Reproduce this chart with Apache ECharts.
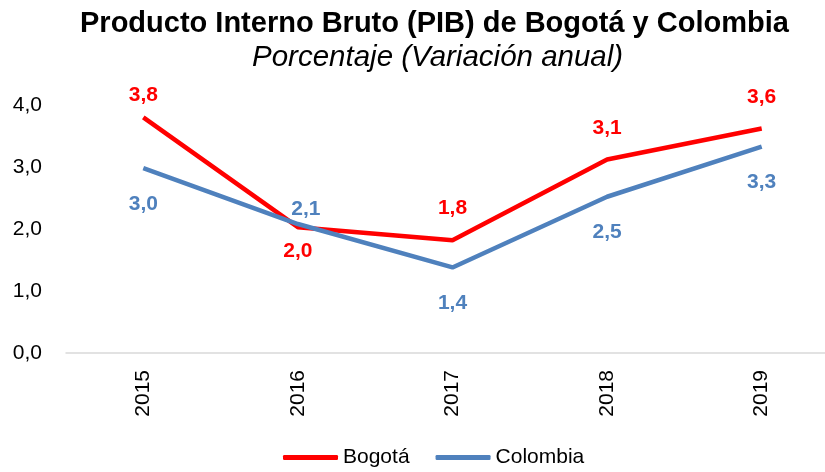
<!DOCTYPE html>
<html>
<head>
<meta charset="utf-8">
<script src="https://cdn.jsdelivr.net/npm/echarts@6/dist/echarts.min.js"></script>
<style>
  html, body { margin: 0; padding: 0; background: #fff; }
  #chart { width: 825px; height: 472px; }
</style>
</head>
<body>
<div id="chart"></div>
<script>
const years = ['2015', '2016', '2017', '2018', '2019'];
const bogota = [3.80, 2.03, 1.82, 3.12, 3.62];
const colombia = [2.98, 2.08, 1.38, 2.52, 3.33];
const yTicks = [0, 1, 2, 3, 4];

const FONT = '"Liberation Sans", Arial, sans-serif';
const fmt = v => v.toFixed(1).replace('.', ',');

// Bogotá labels above except 2016, Colombia below except 2016
const bogotaData = bogota.map((v, i) => ({
  value: v,
  label: i === 1 ? { position: 'bottom', distance: 14 } : { position: 'top', distance: i === 0 ? 12 : 21 }
}));
const colombiaData = colombia.map((v, i) => ({
  value: v,
  label: i === 1 ? { position: 'top', distance: 4, offset: [8, 0] } : { position: 'bottom', distance: 25 }
}));

const chart = echarts.init(document.getElementById('chart'));
chart.setOption({
  backgroundColor: '#ffffff',
  animation: false,
  title: [
    {
      text: 'Producto Interno Bruto (PIB) de Bogotá y Colombia',
      left: 75,
      top: 4,
      textStyle: { fontFamily: FONT, fontSize: 29, fontWeight: 'bold', color: '#000' }
    },
    {
      text: 'Porcentaje (Variación anual)',
      left: 247,
      top: 38,
      textStyle: { fontFamily: FONT, fontSize: 29.5, fontStyle: 'italic', fontWeight: 'normal', color: '#000' }
    }
  ],
  legend: {
    top: 442,
    left: 278,
    itemWidth: 55,
    itemHeight: 5,
    itemGap: 26,
    icon: 'roundRect',
    textStyle: { fontFamily: FONT, fontSize: 21, color: '#000' },
    data: ['Bogotá', 'Colombia']
  },
  grid: { left: 66, right: -14, top: 105, bottom: 119, outerBoundsMode: 'none' },
  xAxis: {
    type: 'category',
    data: years,
    boundaryGap: true,
    axisLine: { lineStyle: { color: '#d9d9d9', width: 1.5 } },
    axisTick: { show: false },
    axisLabel: { rotate: 90, margin: 17, fontFamily: FONT, fontSize: 21, color: '#000' }
  },
  yAxis: {
    type: 'value',
    min: yTicks[0],
    max: yTicks[yTicks.length - 1],
    interval: 1,
    splitLine: { show: false },
    axisLine: { show: false },
    axisTick: { show: false },
    axisLabel: { margin: 24, fontFamily: FONT, fontSize: 21, color: '#000', formatter: v => fmt(v) }
  },
  series: [
    {
      name: 'Bogotá',
      type: 'line',
      data: bogotaData,
      symbol: 'circle',
      symbolSize: 0,
      showSymbol: true,
      color: '#ff0000',
      lineStyle: { width: 4.5, color: '#ff0000' },
      label: {
        show: true,
        fontFamily: FONT, fontSize: 21, fontWeight: 'bold', color: '#ff0000',
        formatter: p => fmt(p.value)
      },
      z: 3
    },
    {
      name: 'Colombia',
      type: 'line',
      data: colombiaData,
      symbol: 'circle',
      symbolSize: 0,
      showSymbol: true,
      color: '#4f81bd',
      lineStyle: { width: 4.5, color: '#4f81bd' },
      label: {
        show: true,
        fontFamily: FONT, fontSize: 21, fontWeight: 'bold', color: '#4f81bd',
        formatter: p => fmt(p.value)
      },
      z: 4
    }
  ]
});
</script>
</body>
</html>
